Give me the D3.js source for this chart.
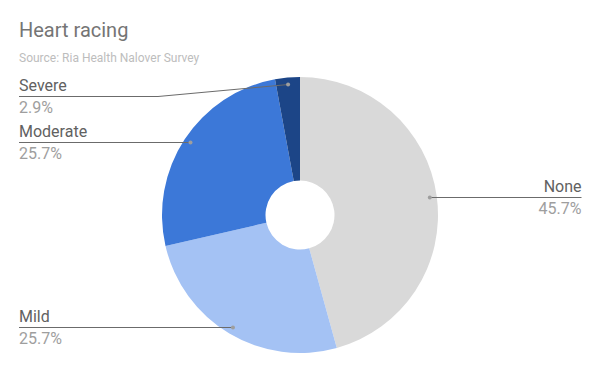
<!DOCTYPE html>
<html>
<head>
<meta charset="utf-8">
<script src="https://cdn.jsdelivr.net/npm/d3@7"></script>
<style>
  body { margin: 0; background: #fff; }
  text { font-family: Roboto, "Noto Sans", Arial, sans-serif; }
</style>
</head>
<body>
<div id="chart"></div>
<script>
// data
const categories = ["None", "Mild", "Moderate", "Severe"];
const values = [45.7, 25.7, 25.7, 2.9];
const colors = ["#d9d9d9", "#a4c2f4", "#3c78d8", "#1c4587"];

const width = 600, height = 371;
const cx = 300, cy = 215, outerR = 138, innerR = 34.5, dotR = 131;

const svg = d3.select("#chart").append("svg")
  .attr("width", width)
  .attr("height", height);

// title + source
svg.append("text")
  .attr("x", 19).attr("y", 37)
  .style("font-size", "20px")
  .attr("fill", "#757575")
  .text("Heart racing");

svg.append("text")
  .attr("x", 19).attr("y", 62)
  .style("font-size", "12px")
  .attr("fill", "#bdbdbd")
  .text("Source: Ria Health Nalover Survey");

const data = categories.map((c, i) => ({ name: c, value: values[i], color: colors[i] }));

const pie = d3.pie().value(d => d.value).sort(null);
const arcs = pie(data);

const arc = d3.arc().innerRadius(innerR).outerRadius(outerR);
const dotArc = d3.arc().innerRadius(dotR).outerRadius(dotR);

const g = svg.append("g").attr("transform", `translate(${cx},${cy})`);

g.selectAll("path")
  .data(arcs)
  .enter()
  .append("path")
  .attr("d", arc)
  .attr("fill", d => d.data.color);

// label placement (line y, side, elbow x)
const labelPos = {
  None: { y: 197.5, side: "right" },
  Mild: { y: 327.5, side: "left" },
  Moderate: { y: 142.5, side: "left" },
  Severe: { y: 96.5, side: "left", elbow: 158 }
};

const fmt = d3.format(".1f");

arcs.forEach(a => {
  const p = labelPos[a.data.name];
  const [dx, dy] = dotArc.centroid(a);
  const px = cx + dx, py = cy + dy;

  let pts;
  if (p.side === "right") {
    pts = [[px, py], [581.5, p.y]];
  } else if (p.elbow) {
    pts = [[px, py], [p.elbow, p.y], [19, p.y]];
  } else {
    pts = [[px, py], [19, p.y]];
  }
  if (!p.elbow) pts = pts.map((q, i) => i === 0 ? [q[0], p.y] : q);

  svg.append("path")
    .attr("d", d3.line()(pts))
    .attr("fill", "none")
    .attr("stroke", "#6b6b6b")
    .attr("stroke-width", 1);

  svg.append("circle")
    .attr("cx", pts[0][0]).attr("cy", pts[0][1])
    .attr("r", 2)
    .attr("fill", "#9e9e9e");

  const tx = p.side === "right" ? 581.5 : 19;
  const anchor = p.side === "right" ? "end" : "start";

  svg.append("text")
    .attr("x", tx).attr("y", p.y - 5.5)
    .attr("text-anchor", anchor)
    .style("font-size", "16px")
    .attr("fill", "#616161")
    .text(a.data.name);

  svg.append("text")
    .attr("x", tx).attr("y", p.y + 16.5)
    .attr("text-anchor", anchor)
    .style("font-size", "16px")
    .attr("fill", "#9e9e9e")
    .text(fmt(a.data.value) + "%");
});
</script>
</body>
</html>
